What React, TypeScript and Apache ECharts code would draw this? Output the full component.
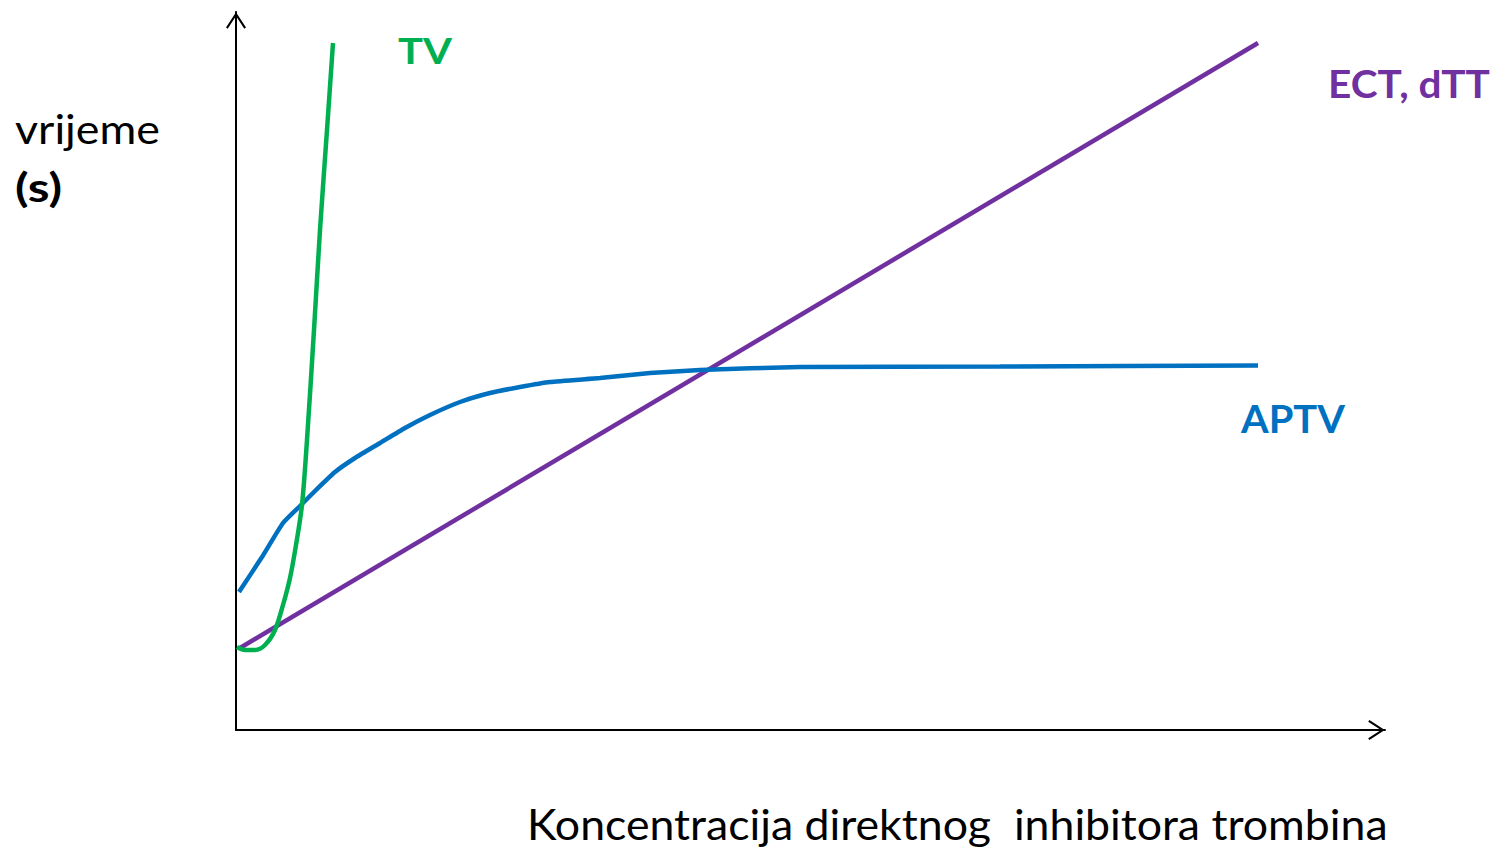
import React, { useEffect, useRef } from "react";
import * as echarts from "echarts";

// Data (x: concentration units, y: time units)
const tvX = [0.1, 0.9, 1.9, 2.9, 3.9, 4.7, 5.4, 6.0, 6.6, 7.1, 7.8, 8.4, 9.1, 9.7];
const tvY = [8.3, 8.0, 8.0, 8.5, 10.0, 12.5, 15.2, 18.5, 22.5, 29.0, 40.0, 50.0, 60.0, 68.7];

const aptvX = [0.3, 2.6, 4.7, 6.4, 8.0, 9.9, 11.9, 14.4, 16.9, 19.4, 22.4, 25.4, 28.4, 31.4, 36.4, 41.4, 46.4, 56.4, 76.4, 102.2];
const aptvY = [13.8, 17.3, 20.7, 22.4, 24.0, 25.8, 27.2, 28.7, 30.2, 31.5, 32.8, 33.7, 34.3, 34.8, 35.2, 35.7, 36.0, 36.3, 36.35, 36.45];

const ectX = [0.4, 102.2];
const ectY = [8.2, 68.7];

const xMax = 114.9;
const yMax = 71.8;

const GREEN = "#00B050";
const BLUE = "#0070C0";
const PURPLE = "#7030A0";
const FONT = "Lato";

const chevron = "path://M10 0 L20 15.4 L18.3 16.6 L10 3.8 L1.7 16.6 L0 15.4 Z";

function measure(text: string, size: number, weight: string): number {
  const c = document.createElement("canvas");
  const ctx = c.getContext("2d")!;
  ctx.font = `${weight} ${size}px ${FONT}`;
  return ctx.measureText(text).width;
}

function label(text: string, x: number, yMid: number, size: number, weight: string, color: string, width: number) {
  const w = measure(text, size, weight);
  return {
    type: "text",
    x,
    y: yMid,
    scaleX: width / w,
    style: {
      text,
      fontSize: size,
      fontFamily: FONT,
      fontWeight: weight,
      fill: color,
      verticalAlign: "middle",
      align: "left",
    },
  };
}

function zip(xs: number[], ys: number[]) {
  return xs.map((x, i) => [x, ys[i]]);
}

export default function App() {
  const ref = useRef<HTMLDivElement>(null);
  useEffect(() => {
    const chart = echarts.init(ref.current!, null, { renderer: "svg" });
    const axisLine = {
      show: true,
      symbol: ["none", chevron],
      symbolSize: [20, 17],
      symbolOffset: [0, -8.5],
      lineStyle: { color: "#000", width: 2 },
    };
    chart.setOption({
      animation: false,
      backgroundColor: "#fff",
      grid: { left: 236, right: 112, top: 12, bottom: 119, containLabel: false },
      xAxis: {
        type: "value",
        min: 0,
        max: xMax,
        axisLine,
        axisTick: { show: false },
        axisLabel: { show: false },
        splitLine: { show: false },
      },
      yAxis: {
        type: "value",
        min: 0,
        max: yMax,
        axisLine,
        axisTick: { show: false },
        axisLabel: { show: false },
        splitLine: { show: false },
      },
      series: [
        {
          name: "ECT, dTT",
          type: "line",
          data: zip(ectX, ectY),
          showSymbol: false,
          lineStyle: { color: PURPLE, width: 4.5 },
          z: 2,
        },
        {
          name: "APTV",
          type: "line",
          data: zip(aptvX, aptvY),
          showSymbol: false,
          smooth: 0.15,
          lineStyle: { color: BLUE, width: 4.5 },
          z: 3,
        },
        {
          name: "TV",
          type: "line",
          data: zip(tvX, tvY),
          showSymbol: false,
          smooth: 0.3,
          lineStyle: { color: GREEN, width: 4.5 },
          z: 4,
        },
      ],
      graphic: [
        label("vrijeme", 15, 128, 41, "normal", "#000", 145),
        label("(s)", 15, 186, 41, "bold", "#000", 47),
        label("TV", 398, 50, 36, "bold", GREEN, 54),
        label("ECT, dTT", 1328, 83, 39, "bold", PURPLE, 162),
        label("APTV", 1241, 418, 39, "bold", BLUE, 104),
        label("Koncentracija direktnog  inhibitora trombina", 527, 823, 43, "normal", "#000", 861),
      ],
    });
    return () => chart.dispose();
  }, []);
  return (
    <div
      ref={ref}
      style={{ position: "fixed", left: 0, top: 0, width: 1497, height: 849, background: "#fff" }}
    />
  );
}
